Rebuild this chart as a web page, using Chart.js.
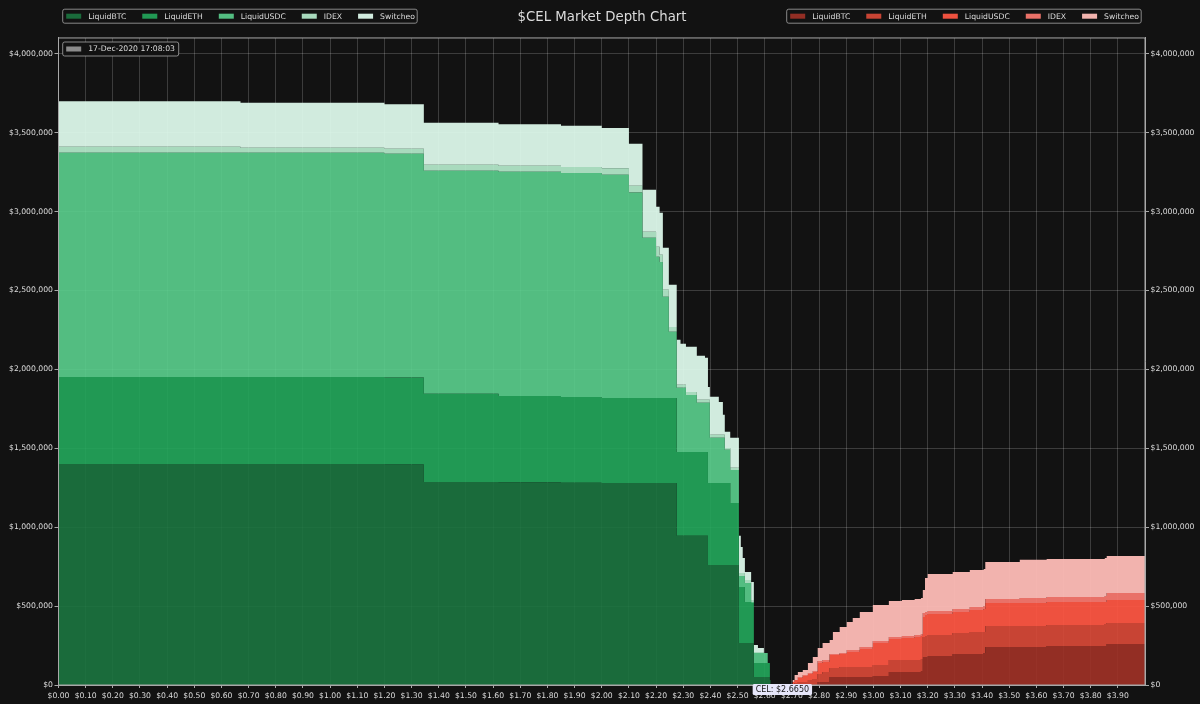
<!DOCTYPE html>
<html>
<head>
<meta charset="utf-8">
<title>$CEL Market Depth Chart</title>
<script src="https://cdn.jsdelivr.net/npm/chart.js@4"></script>
<style>
    html, body { margin: 0; padding: 0; background: #121212; }
    canvas { display: block; }
</style>
</head>
<body>
<canvas id="depth" width="1200" height="704"></canvas>
<script>
// exchanges, in the order they are stacked from the bottom up
const exchanges = ['LiquidBTC', 'LiquidETH', 'LiquidUSDC', 'IDEX', 'Switcheo'];
const greens = ['rgba(28,117,64,0.9)', 'rgba(36,169,92,0.9)', 'rgba(91,208,142,0.9)', 'rgba(185,241,208,0.9)', 'rgba(224,252,238,0.93)'];
const reds = ['rgba(162,50,39,0.9)', 'rgba(221,74,56,0.9)', 'rgba(255,86,67,0.93)', 'rgba(250,121,111,0.93)', 'rgba(255,189,183,0.95)'];

const celPrice = 2.665;
const snapshot = '17-Dec-2020 17:08:03';
const yTickValues = [0, 500000, 1000000, 1500000, 2000000, 2500000, 3000000, 3500000, 4000000];

// bid side, cumulative depth in $ thousands
const bidPrices = [0, 0.67, 1.2, 1.345, 1.62, 1.85, 2.0, 2.1, 2.15, 2.2, 2.213, 2.225, 2.247, 2.276, 2.29, 2.31, 2.35, 2.38, 2.391, 2.398, 2.431, 2.446, 2.453, 2.473, 2.505, 2.512, 2.519, 2.527, 2.55, 2.56, 2.575, 2.597, 2.611, 2.619, 2.622];
const bidBtc = [1401, 1401, 1398, 1287, 1284, 1282, 1280, 1280, 1280, 1280, 1280, 1280, 1280, 945, 945, 945, 945, 945, 761, 761, 761, 761, 761, 761, 266, 266, 266, 266, 266, 51, 51, 51, 51, 32, 0];
const bidEth = [1952, 1952, 1949, 1845, 1832, 1825, 1819, 1819, 1819, 1819, 1819, 1819, 1819, 1477, 1477, 1477, 1477, 1477, 1280, 1280, 1280, 1280, 1280, 1154, 621, 621, 621, 526, 520, 139, 139, 139, 139, 32, 0];
const bidUsdc = [3372, 3372, 3366, 3258, 3252, 3245, 3233, 3121, 2834, 2713, 2681, 2460, 2238, 1883, 1883, 1838, 1788, 1788, 1788, 1566, 1566, 1566, 1490, 1363, 691, 691, 691, 647, 526, 203, 203, 203, 139, 32, 0];
const bidIdex = [3410, 3404, 3398, 3296, 3290, 3283, 3274, 3163, 2872, 2777, 2726, 2504, 2269, 1902, 1902, 1857, 1807, 1807, 1807, 1585, 1585, 1585, 1502, 1376, 710, 710, 710, 666, 539, 209, 209, 203, 139, 32, 0];
const bidSwitcheo = [3699, 3689, 3680, 3563, 3553, 3544, 3530, 3429, 3138, 3030, 2992, 2770, 2536, 2187, 2162, 2143, 2086, 2073, 1889, 1826, 1794, 1712, 1604, 1566, 945, 875, 805, 716, 653, 254, 235, 203, 139, 32, 0];

// ask side, same thing
const askPrices = [2.696, 2.703, 2.71, 2.722, 2.74, 2.759, 2.777, 2.795, 2.813, 2.839, 2.851, 2.876, 2.902, 2.924, 2.95, 2.998, 3.057, 3.105, 3.152, 3.175, 3.182, 3.19, 3.2, 3.292, 3.355, 3.406, 3.412, 3.539, 3.638, 3.852, 3.859, 4];
const askBtc = [0, 0, 0, 0, 0, 0, 0, 19, 19, 51, 51, 51, 51, 51, 51, 57, 82, 82, 82, 89, 177, 177, 184, 196, 196, 203, 241, 241, 247, 247, 260, 260];
const askEth = [0, 6, 13, 19, 19, 32, 38, 70, 82, 108, 108, 114, 114, 114, 114, 127, 158, 158, 158, 165, 304, 311, 317, 330, 336, 336, 374, 374, 380, 387, 393, 393];
const askUsdc = [0, 19, 32, 44, 57, 70, 82, 139, 146, 190, 190, 197, 209, 209, 228, 266, 292, 298, 304, 311, 431, 444, 450, 463, 475, 482, 520, 520, 526, 526, 539, 539];
const askIdex = [0, 19, 32, 51, 63, 76, 89, 152, 158, 197, 197, 203, 222, 222, 241, 279, 304, 311, 317, 323, 456, 463, 469, 482, 494, 501, 545, 551, 558, 564, 583, 590];
const askSwitcheo = [0, 32, 63, 82, 95, 139, 177, 235, 266, 285, 336, 368, 399, 425, 463, 507, 533, 539, 545, 552, 602, 678, 704, 716, 729, 735, 780, 793, 799, 805, 818, 824];

const FONT = '"DejaVu Sans", sans-serif';
const TEXT = '#dcdcdc';
const EDGE = '#a8a8a8';
const GRID = 'rgba(255,255,255,0.18)';

function layer(label, color, prices, values, index) {
    return {
        label: label,
        data: prices.map((p, i) => ({ x: p, y: values[i] * 1000 })),
        backgroundColor: color,
        borderWidth: 0,
        pointRadius: 0,
        stepped: true,
        // each band fills down to the band under it, so the grid shows through faintly
        fill: index === 0 ? 'origin' : '-1'
    };
}

const bidLayers = [bidBtc, bidEth, bidUsdc, bidIdex, bidSwitcheo];
const askLayers = [askBtc, askEth, askUsdc, askIdex, askSwitcheo];
const datasets = [
    ...exchanges.map((name, i) => layer(name, greens[i], bidPrices, bidLayers[i], i)),
    ...exchanges.map((name, i) => layer(name, reds[i], askPrices, askLayers[i], i))
];

function legendBox(ctx, x, y, w, h) {
    ctx.fillStyle = '#121212';
    ctx.strokeStyle = EDGE;
    ctx.lineWidth = 0.8;
    ctx.beginPath();
    ctx.roundRect(x, y, w, h, 2);
    ctx.fill();
    ctx.stroke();
}

function legendRow(ctx, boxX, boxY, boxW, items) {
    legendBox(ctx, boxX, boxY, boxW, 14);
    ctx.font = '7.7px ' + FONT;
    ctx.textBaseline = 'middle';
    ctx.textAlign = 'left';
    let x = boxX + 3.5;
    items.forEach(item => {
        ctx.fillStyle = item.color;
        ctx.fillRect(x, boxY + 4.5, 15, 5);
        ctx.fillStyle = TEXT;
        ctx.fillText(item.text, x + 22, boxY + 7.5);
        x += 22 + ctx.measureText(item.text).width + 16;
    });
}

const extras = {
    id: 'extras',
    afterDraw(chart) {
        const ctx = chart.ctx;
        const area = chart.chartArea;
        ctx.save();

        ctx.strokeStyle = EDGE;
        ctx.lineWidth = 1;
        ctx.strokeRect(area.left, area.top, area.right - area.left, area.bottom - area.top);

        legendRow(ctx, 62.7, 9.2, 354.5, exchanges.map((t, i) => ({ text: t, color: greens[i] })));
        legendRow(ctx, 786.7, 9.2, 354.5, exchanges.map((t, i) => ({ text: t, color: reds[i] })));
        legendRow(ctx, 62.7, 42, 116, [{ text: snapshot, color: '#8c8c8c' }]);

        // current price tag sits on top of the x labels
        const tag = 'CEL: $' + celPrice.toFixed(4);
        const cx = chart.scales.x.getPixelForValue(celPrice);
        ctx.font = '8px ' + FONT;
        const w = ctx.measureText(tag).width + 6;
        ctx.fillStyle = '#e6e6fa';
        ctx.beginPath();
        ctx.roundRect(cx - w / 2, 684, w, 11, 1.5);
        ctx.fill();
        ctx.fillStyle = '#141414';
        ctx.textAlign = 'center';
        ctx.textBaseline = 'middle';
        ctx.fillText(tag, cx, 689.8);

        ctx.restore();
    }
};

function money(v) {
    return '$' + Number(v).toLocaleString('en-US');
}

function yAxis(position, width, drawGrid) {
    return {
        position: position,
        min: 0,
        max: 4100000,
        afterFit(scale) { scale.width = width; },
        afterBuildTicks(scale) {
            scale.ticks = yTickValues.map(v => ({ value: v }));
        },
        ticks: {
            color: TEXT,
            font: { family: FONT, size: 7.7 },
            padding: 1.5,
            callback: money
        },
        grid: { display: true, drawOnChartArea: drawGrid, color: GRID, tickColor: EDGE, tickLength: 4 },
        border: { color: EDGE }
    };
}

new Chart(document.getElementById('depth'), {
    type: 'line',
    data: { datasets: datasets },
    plugins: [extras],
    options: {
        responsive: false,
        animation: false,
        events: [],
        parsing: false,
        normalized: true,
        // pushes the title centre over to where it is in the original
        layout: { padding: { left: 4 } },
        plugins: {
            legend: { display: false },
            tooltip: { enabled: false },
            title: {
                display: true,
                text: '$CEL Market Depth Chart',
                color: TEXT,
                font: { family: FONT, size: 13.3, weight: 'normal' },
                padding: { top: 10, bottom: 12 }
            }
        },
        scales: {
            x: {
                type: 'linear',
                min: 0,
                max: 4,
                afterFit(scale) { scale.height = 19; },
                afterBuildTicks(scale) {
                    scale.ticks = scale.ticks.filter(t => t.value < 3.95);
                },
                ticks: {
                    stepSize: 0.1,
                    autoSkip: false,
                    maxRotation: 0,
                    color: TEXT,
                    font: { family: FONT, size: 7.7 },
                    padding: 3,
                    callback: v => '$' + Number(v).toFixed(2)
                },
                grid: { color: GRID, tickColor: EDGE, tickLength: 3 },
                border: { color: EDGE }
            },
            y: yAxis('left', 54.5, true),
            yRight: yAxis('right', 55, false)
        }
    }
});
</script>
</body>
</html>
